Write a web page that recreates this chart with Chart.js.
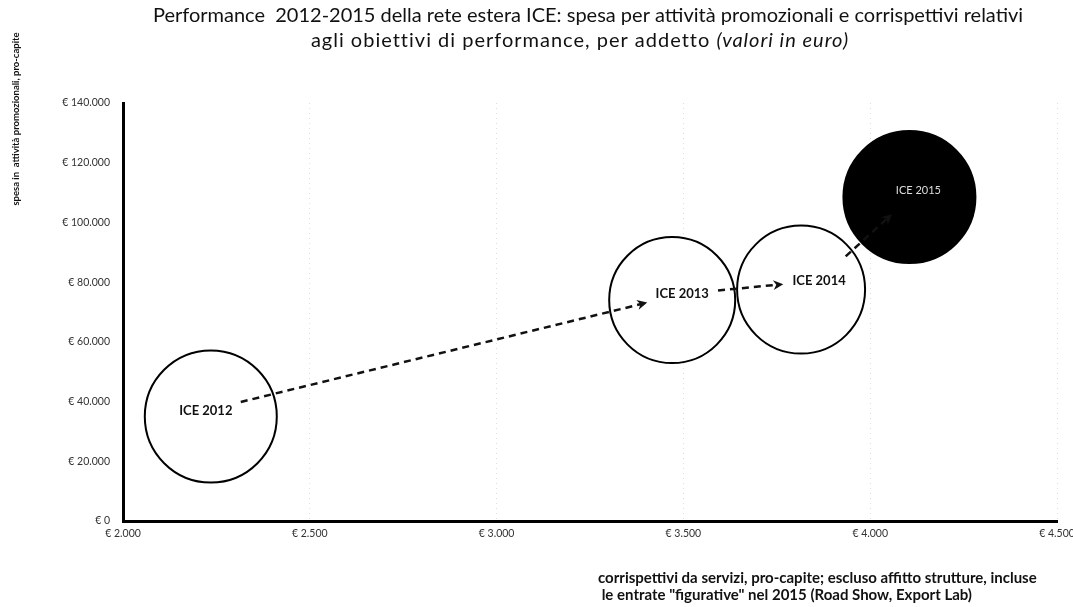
<!DOCTYPE html>
<html>
<head>
<meta charset="utf-8">
<script src="https://cdn.jsdelivr.net/npm/chart.js@4/dist/chart.umd.min.js"></script>
<style>
    html, body { margin: 0; padding: 0; background: #fff; }
</style>
</head>
<body>
<canvas id="perfChart" width="1073" height="607"></canvas>
<script>
// values
const years = ['ICE 2012', 'ICE 2013', 'ICE 2014', 'ICE 2015'];
const corrispettivi = [2235, 3470, 3815, 4105];      // x, euro pro-capite
const spesaPromo = [35000, 74000, 77500, 108500];     // y, euro pro-capite
const bubbleSize = [66, 63, 64, 66];
const xTicks = [2000, 2500, 3000, 3500, 4000, 4500];
const yTicks = [0, 20000, 40000, 60000, 80000, 100000, 120000, 140000];

const titleLine1 = 'Performance  2012-2015 della rete estera ICE: spesa per attività promozionali e corrispettivi relativi';
const titleLine2 = 'agli obiettivi di performance, per addetto ';
const titleItalic = '(valori in euro)';
const yTitle = 'spesa in  attività promozionali, pro-capite';
const xTitle = [
    'corrispettivi da servizi, pro-capite; escluso affitto strutture, incluse',
    ' le entrate "figurative" nel 2015 (Road Show, Export Lab)'
];

const FONT = 'Lato, "Open Sans", sans-serif';
// small nudges so the labels sit where they do in the picture
const labelNudge = [[-5, -6], [10, -6], [18, -9], [9, -7]];

function euro(n) {
    return '€ ' + String(n).replace(/\B(?=(\d{3})+(?!\d))/g, '.');
}

const textPlugin = {
    id: 'textPlugin',
    afterDraw(chart) {
        const ctx = chart.ctx;
        ctx.save();
        ctx.fillStyle = '#111';
        ctx.textBaseline = 'middle';

        // title
        ctx.font = '20px ' + FONT;
        ctx.textAlign = 'center';
        ctx.fillText(titleLine1, 588, 16);
        ctx.letterSpacing = '1px';
        const w1 = ctx.measureText(titleLine2).width;
        ctx.font = 'italic 20px ' + FONT;
        const w2 = ctx.measureText(titleItalic).width;
        const left = 580 - (w1 + w2) / 2;
        ctx.textAlign = 'left';
        ctx.font = '20px ' + FONT;
        ctx.fillText(titleLine2, left, 41);
        ctx.font = 'italic 20px ' + FONT;
        ctx.fillText(titleItalic, left + w1, 41);
        ctx.letterSpacing = '0px';

        // x axis title
        ctx.font = 'bold 15px ' + FONT;
        ctx.fillText(xTitle[0], 598, 578);
        ctx.fillText(xTitle[1], 598, 595);

        // y axis title
        ctx.translate(16, 119);
        ctx.rotate(-Math.PI / 2);
        ctx.textAlign = 'center';
        ctx.font = 'bold 9.5px ' + FONT;
        ctx.fillText(yTitle, 0, 0);
        ctx.restore();
    }
};

const arrowPlugin = {
    id: 'arrowPlugin',
    afterDatasetsDraw(chart) {
        const ctx = chart.ctx;
        const pts = chart.getDatasetMeta(0).data;
        const anchors = pts.map((p, i) => ({ x: p.x + labelNudge[i][0], y: p.y + labelNudge[i][1] }));

        ctx.save();
        ctx.strokeStyle = '#111';
        ctx.fillStyle = '#111';
        ctx.lineWidth = 2.5;
        for (let i = 0; i < anchors.length - 1; i++) {
            const a = anchors[i], b = anchors[i + 1];
            const dx = b.x - a.x, dy = b.y - a.y;
            const len = Math.hypot(dx, dy);
            const ux = dx / len, uy = dy / len;
            const sx = a.x + ux * 36, sy = a.y + uy * 36;
            const ex = b.x - ux * 36, ey = b.y - uy * 36;
            ctx.setLineDash([7, 5]);
            ctx.beginPath();
            ctx.moveTo(sx, sy);
            ctx.lineTo(ex - ux * 6, ey - uy * 6);
            ctx.stroke();
            ctx.setLineDash([]);
            ctx.beginPath();
            ctx.moveTo(ex, ey);
            ctx.lineTo(ex - ux * 10 - uy * 5, ey - uy * 10 + ux * 5);
            ctx.lineTo(ex - ux * 7, ey - uy * 7);
            ctx.lineTo(ex - ux * 10 + uy * 5, ey - uy * 10 - ux * 5);
            ctx.closePath();
            ctx.fill();
        }

        ctx.textAlign = 'center';
        ctx.textBaseline = 'middle';
        anchors.forEach((p, i) => {
            if (i === anchors.length - 1) {
                ctx.font = '11px ' + FONT;
                ctx.fillStyle = '#ddd';
            } else {
                ctx.font = 'bold 13px ' + FONT;
                ctx.fillStyle = '#111';
            }
            ctx.fillText(years[i], p.x, p.y);
        });
        ctx.restore();
    }
};

const ctx = document.getElementById('perfChart').getContext('2d');
const perfChart = new Chart(ctx, {
    type: 'bubble',
    data: {
        datasets: [{
            label: 'rete estera ICE',
            data: years.map((y, i) => ({ x: corrispettivi[i], y: spesaPromo[i], r: bubbleSize[i] })),
            backgroundColor: ['#fff', '#fff', '#fff', '#000'],
            borderColor: '#000',
            borderWidth: 2,
            hoverRadius: 0,
            hoverBorderWidth: 2
        }]
    },
    options: {
        responsive: false,
        animation: false,
        layout: { autoPadding: false, padding: { top: 103, left: 0, right: 0, bottom: 0 } },
        plugins: {
            legend: { display: false },
            tooltip: { enabled: false }
        },
        scales: {
            x: {
                type: 'linear',
                min: xTicks[0],
                max: xTicks[xTicks.length - 1],
                afterBuildTicks: s => { s.ticks = xTicks.map(v => ({ value: v })); },
                afterFit: s => { s.height = 86; s.paddingLeft = 0; s.paddingRight = 16; },
                ticks: {
                    callback: v => euro(v),
                    font: { family: FONT, size: 10.5 },
                    color: '#333',
                    padding: 6,
                    maxRotation: 0
                },
                grid: { color: 'rgba(0,0,0,0.13)', drawTicks: false, lineWidth: 1 },
                border: { color: '#000', width: 3, dash: [1, 4] }
            },
            y: {
                type: 'linear',
                min: yTicks[0],
                max: yTicks[yTicks.length - 1],
                afterBuildTicks: s => { s.ticks = yTicks.map(v => ({ value: v })); },
                afterFit: s => { s.width = 123; },
                ticks: {
                    callback: v => euro(v),
                    font: { family: FONT, size: 10.5 },
                    color: '#333',
                    padding: 5
                },
                grid: { display: false },
                border: { color: '#000', width: 3 }
            }
        }
    },
    plugins: [arrowPlugin, textPlugin]
});
</script>
</body>
</html>
